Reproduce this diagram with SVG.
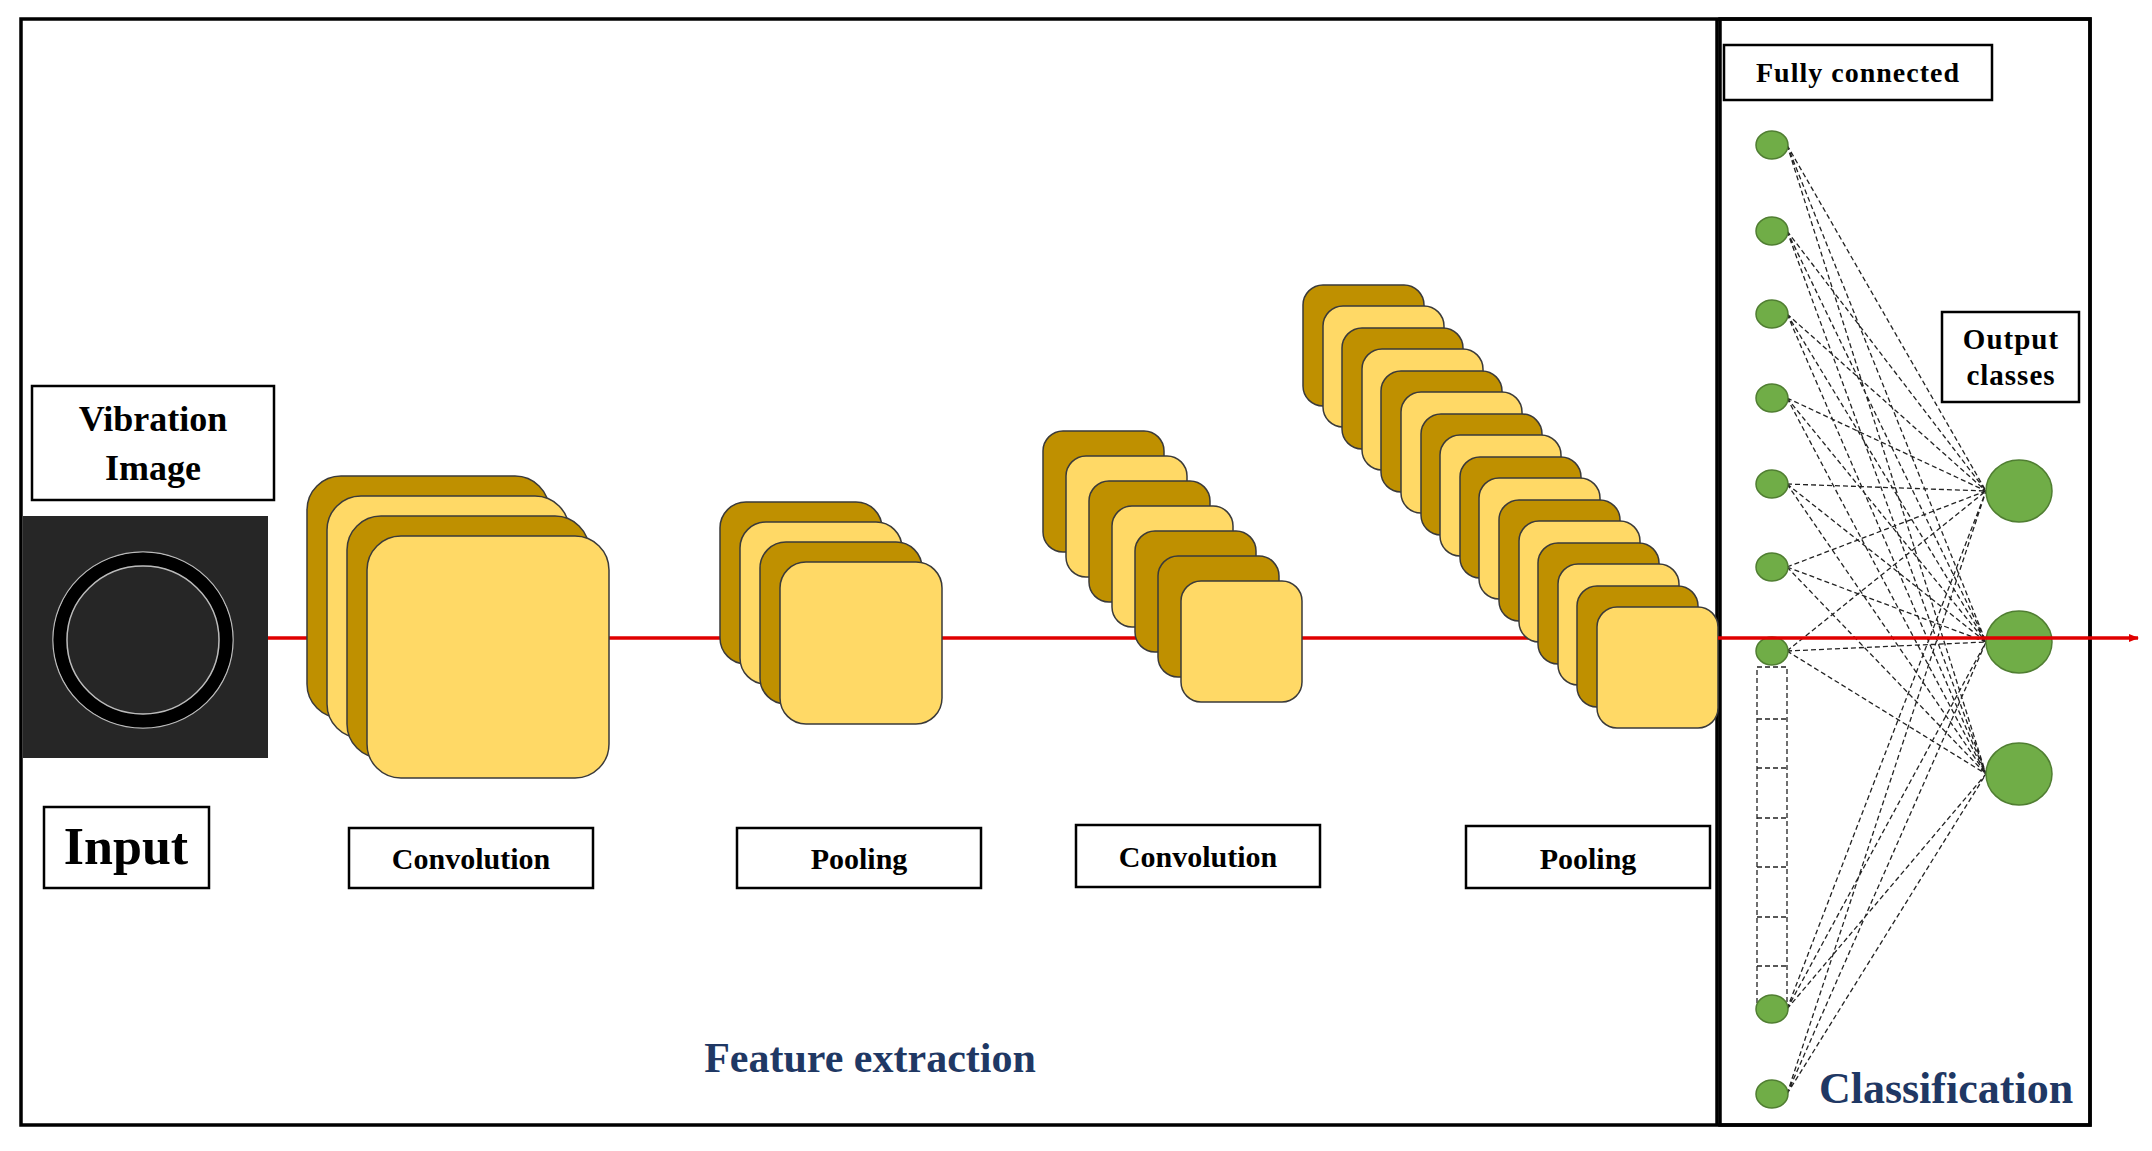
<svg xmlns="http://www.w3.org/2000/svg" width="2152" height="1151" viewBox="0 0 2152 1151">
<defs>
<style>
.d{fill:#BF9000;stroke:#3a3a3a;stroke-width:1.5}
.l{fill:#FFD966;stroke:#3a3a3a;stroke-width:1.5}
.box{fill:#fff;stroke:#000;stroke-width:2.5}
.t{font-family:"Liberation Serif",serif;font-weight:bold;fill:#000;text-anchor:middle}
.g{fill:#70AD47;stroke:#507E32;stroke-width:1.5}
.dash{stroke:#222;stroke-width:1.3;stroke-dasharray:5 3;fill:none}
</style>
<marker id="ah" markerWidth="10" markerHeight="8" refX="9" refY="4" orient="auto" markerUnits="userSpaceOnUse"><path d="M0,0 L10,4 L0,8 Z" fill="#E00000"/></marker>
</defs>
<rect width="2152" height="1151" fill="#fff"/>
<rect x="21" y="19" width="2069" height="1106" fill="none" stroke="#000" stroke-width="3.5"/>
<line x1="1717" y1="19" x2="1717" y2="1125" stroke="#000" stroke-width="3.5"/>
<rect x="1720" y="19" width="370" height="1106" fill="none" stroke="#000" stroke-width="3.5"/>
<g id="connectors">
<line x1="268" y1="638" x2="1717" y2="638" stroke="#E00000" stroke-width="3.5"/>
</g>
<g id="input">
<rect x="32" y="386" width="242" height="114" class="box"/>
<text x="153" y="431" class="t" font-size="36">Vibration</text>
<text x="153" y="480" class="t" font-size="36">Image</text>
<rect x="23" y="516" width="245" height="242" fill="#262626"/>
<ellipse cx="143" cy="640" rx="90" ry="88" fill="none" stroke="#bbb" stroke-width="1.5"/>
<ellipse cx="143" cy="640" rx="83" ry="81" fill="none" stroke="#000" stroke-width="13"/>
<ellipse cx="143" cy="640" rx="76" ry="74" fill="none" stroke="#bbb" stroke-width="1.5"/>
<rect x="44" y="807" width="165" height="81" class="box"/>
<text x="126" y="864" class="t" font-size="52">Input</text>
</g>
<g id="conv1">
<rect x="307" y="476" width="242" height="242" rx="34" class="d"/>
<rect x="327" y="496" width="242" height="242" rx="34" class="l"/>
<rect x="347" y="516" width="242" height="242" rx="34" class="d"/>
<rect x="367" y="536" width="242" height="242" rx="34" class="l"/>
<rect x="349" y="828" width="244" height="60" class="box"/>
<text x="471" y="869" class="t" font-size="30">Convolution</text>
</g>
<g id="pool1">
<rect x="720" y="502" width="162" height="162" rx="26" class="d"/>
<rect x="740" y="522" width="162" height="162" rx="26" class="l"/>
<rect x="760" y="542" width="162" height="162" rx="26" class="d"/>
<rect x="780" y="562" width="162" height="162" rx="26" class="l"/>
<rect x="737" y="828" width="244" height="60" class="box"/>
<text x="859" y="869" class="t" font-size="30">Pooling</text>
</g>
<g id="conv2">
<rect x="1043" y="431" width="121" height="121" rx="20" class="d"/>
<rect x="1066" y="456" width="121" height="121" rx="20" class="l"/>
<rect x="1089" y="481" width="121" height="121" rx="20" class="d"/>
<rect x="1112" y="506" width="121" height="121" rx="20" class="l"/>
<rect x="1135" y="531" width="121" height="121" rx="20" class="d"/>
<rect x="1158" y="556" width="121" height="121" rx="20" class="d"/>
<rect x="1181" y="581" width="121" height="121" rx="20" class="l"/>
<rect x="1076" y="825" width="244" height="62" class="box"/>
<text x="1198" y="867" class="t" font-size="30">Convolution</text>
</g>
<g id="pool2">
<rect x="1303" y="285" width="121" height="121" rx="20" class="d"/>
<rect x="1323" y="306" width="121" height="121" rx="20" class="l"/>
<rect x="1342" y="328" width="121" height="121" rx="20" class="d"/>
<rect x="1362" y="349" width="121" height="121" rx="20" class="l"/>
<rect x="1381" y="371" width="121" height="121" rx="20" class="d"/>
<rect x="1401" y="392" width="121" height="121" rx="20" class="l"/>
<rect x="1421" y="414" width="121" height="121" rx="20" class="d"/>
<rect x="1440" y="435" width="121" height="121" rx="20" class="l"/>
<rect x="1460" y="457" width="121" height="121" rx="20" class="d"/>
<rect x="1479" y="478" width="121" height="121" rx="20" class="l"/>
<rect x="1499" y="500" width="121" height="121" rx="20" class="d"/>
<rect x="1519" y="521" width="121" height="121" rx="20" class="l"/>
<rect x="1538" y="543" width="121" height="121" rx="20" class="d"/>
<rect x="1558" y="564" width="121" height="121" rx="20" class="l"/>
<rect x="1577" y="586" width="121" height="121" rx="20" class="d"/>
<rect x="1597" y="607" width="121" height="121" rx="20" class="l"/>
<rect x="1466" y="826" width="244" height="62" class="box"/>
<text x="1588" y="869" class="t" font-size="30">Pooling</text>
</g>
<text x="870" y="1072" class="t" font-size="42" style="fill:#1F3864">Feature extraction</text>
<g id="classification">
<rect x="1724" y="45" width="268" height="55" class="box"/>
<text x="1858" y="82" class="t" font-size="28" letter-spacing="1">Fully connected</text>
<rect x="1942" y="312" width="137" height="90" class="box"/>
<text x="2011" y="349" class="t" font-size="29" letter-spacing="1">Output</text>
<text x="2011" y="385" class="t" font-size="29" letter-spacing="1">classes</text>
<g class="dash">
<rect x="1757" y="667" width="30" height="342"/>
<line x1="1757" y1="719" x2="1787" y2="719"/><line x1="1757" y1="768" x2="1787" y2="768"/>
<line x1="1757" y1="818" x2="1787" y2="818"/><line x1="1757" y1="867" x2="1787" y2="867"/>
<line x1="1757" y1="917" x2="1787" y2="917"/><line x1="1757" y1="966" x2="1787" y2="966"/>
</g>
<g id="fc-lines" class="dash">
<path d="M1787,145L1986,491M1787,145L1986,642M1787,145L1986,774M1787,231L1986,491M1787,231L1986,642M1787,231L1986,774M1787,314L1986,491M1787,314L1986,642M1787,314L1986,774M1787,398L1986,491M1787,398L1986,642M1787,398L1986,774M1787,484L1986,491M1787,484L1986,642M1787,484L1986,774M1787,567L1986,491M1787,567L1986,642M1787,567L1986,774M1787,651L1986,491M1787,651L1986,642M1787,651L1986,774M1787,1009L1986,491M1787,1009L1986,642M1787,1009L1986,774M1787,1094L1986,491M1787,1094L1986,642M1787,1094L1986,774"/>
</g>
<ellipse cx="1772" cy="145" rx="16" ry="14" class="g"/>
<ellipse cx="1772" cy="231" rx="16" ry="14" class="g"/>
<ellipse cx="1772" cy="314" rx="16" ry="14" class="g"/>
<ellipse cx="1772" cy="398" rx="16" ry="14" class="g"/>
<ellipse cx="1772" cy="484" rx="16" ry="14" class="g"/>
<ellipse cx="1772" cy="567" rx="16" ry="14" class="g"/>
<ellipse cx="1772" cy="651" rx="16" ry="14" class="g"/>
<ellipse cx="1772" cy="1009" rx="16" ry="14" class="g"/>
<ellipse cx="1772" cy="1094" rx="16" ry="14" class="g"/>
<ellipse cx="2019" cy="491" rx="33" ry="31" class="g"/>
<ellipse cx="2019" cy="642" rx="33" ry="31" class="g"/>
<ellipse cx="2019" cy="774" rx="33" ry="31" class="g"/>
<text x="1946" y="1103" class="t" font-size="44" style="fill:#1F3864">Classification</text>
</g>
<g id="connectors2">
<line x1="1718" y1="638" x2="2138" y2="638" stroke="#E00000" stroke-width="3.5" marker-end="url(#ah)"/>
</g>
</svg>
